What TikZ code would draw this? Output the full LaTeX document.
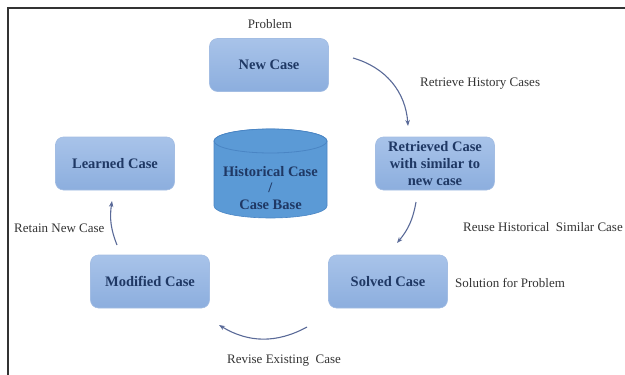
\documentclass[tikz,border=0pt]{standalone}
\usepackage{fontspec}
\setmainfont{Liberation Serif}
\usetikzlibrary{arrows.meta}
\definecolor{boxtop}{HTML}{A8C3E9}
\definecolor{boxbot}{HTML}{8CAEDE}
\definecolor{boxedge}{HTML}{A3BDE3}
\definecolor{drum}{HTML}{5B9AD6}
\definecolor{drumedge}{HTML}{4A85C4}
\definecolor{navy}{HTML}{1F3864}
\definecolor{ink}{HTML}{333333}
\definecolor{flow}{HTML}{5A6A98}

\begin{document}
\begin{tikzpicture}[x=1pt,y=-1pt,box/.style={rounded corners=8pt,top color=boxtop,bottom color=boxbot,draw=boxedge,line width=.6pt,minimum width=119pt,minimum height=53pt,align=center,text=navy,font=\fontsize{14.5}{17}\selectfont\bfseries},note/.style={text=ink,font=\fontsize{13}{15}\selectfont,inner sep=0pt},line/.style={flow,line width=1.1pt,-{Stealth[length=6pt,width=4.5pt]}}]
 \useasboundingbox (0,0) rectangle (625,375);
 \draw[ink,line width=1.8pt] (625,8)--(8,8)--(8,375);
 % case base drum
 \path[fill=drum,draw=drumedge,line width=.6pt] (214,141) -- (214,206) arc[start angle=180,end angle=360,x radius=56.5pt,y radius=12pt] -- (327,141) arc[start angle=0,end angle=180,x radius=56.5pt,y radius=12pt] -- cycle;
 \draw[drumedge,fill=drum,line width=.8pt] (270.5,141) ellipse[x radius=56.5pt,y radius=12pt];
 \node[align=center,text=navy,font=\fontsize{14.5}{16.5}\selectfont\bfseries] (base) at (270.5,188) {Historical Case\\/\\Case Base};
 \node[box] (new) at (269,65) {New Case};
 \node[box] (learned) at (115,163.5) {Learned Case};
 \node[box] (retrieved) at (435,163.5) {Retrieved Case\\with similar to\\new case};
 \node[box] (modified) at (150,281.5) {Modified Case};
 \node[box] (solved) at (388,281.5) {Solved Case};
 \node[note] (problem) at (270,24) {Problem};
 \node[note,anchor=west] (retrieve) at (420,84) {Retrieve History Cases};
 \node[note,anchor=west] (retain) at (14,228) {Retain New Case};
 \node[note,anchor=west] (reuse) at (463,227) {Reuse Historical\ \ Similar Case};
 \node[note,anchor=west] (solution) at (455,283) {Solution for Problem};
 \node[note] (revise) at (284,361) {Revise Existing\ \ Case};
 \coordinate (a1) at (353,58); \coordinate (a2) at (408,126);
 \coordinate (b1) at (416,202); \coordinate (b2) at (397,243);
 \coordinate (c1) at (307,327); \coordinate (c2) at (219,325);
 \coordinate (d1) at (117,245); \coordinate (d2) at (112,201);
 \draw[line] (a1) to[bend left=35] (a2);
 \draw[line] (b1) to[bend left=15] (b2);
 \draw[line] (c1) to[bend left=30] (c2);
 \draw[line] (d1) to[bend left=15] (d2);
\end{tikzpicture}
\end{document}
